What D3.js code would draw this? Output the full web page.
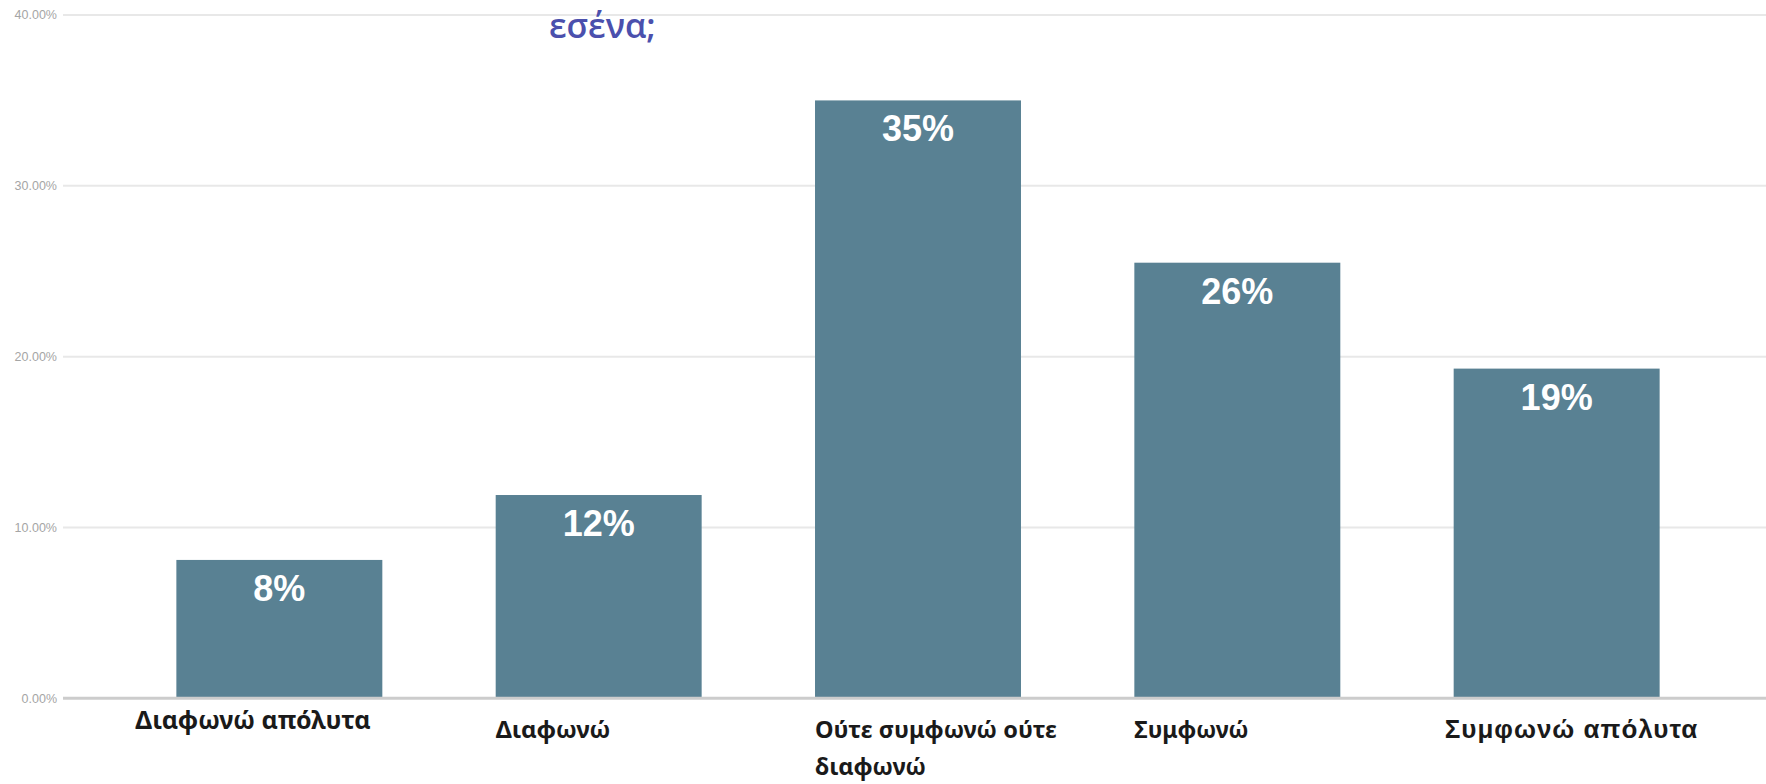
<!DOCTYPE html>
<html>
<head>
<meta charset="utf-8">
<script src="https://cdn.jsdelivr.net/npm/d3@7"></script>
<style>
  html, body { margin: 0; padding: 0; background: #ffffff; }
  svg { display: block; }
</style>
</head>
<body>
<script>
// ---- data ----
const categories = ["Διαφωνώ απόλυτα", "Διαφωνώ", "Ούτε συμφωνώ ούτε διαφωνώ", "Συμφωνώ", "Συμφωνώ απόλυτα"];
const categoryLines = [["Διαφωνώ απόλυτα"], ["Διαφωνώ"], ["Ούτε συμφωνώ ούτε", "διαφωνώ"], ["Συμφωνώ"], ["Συμφωνώ απόλυτα"]];
const values = [8.1, 11.9, 35.0, 25.5, 19.3];
const valueLabels = ["8%", "12%", "35%", "26%", "19%"];
const yTicks = [0, 10, 20, 30, 40];
const yTickLabels = ["0.00%", "10.00%", "20.00%", "30.00%", "40.00%"];
const titleText = "εσένα;";

// ---- layout ----
const W = 1766, H = 784;
const svg = d3.select("body").append("svg").attr("width", W).attr("height", H);

const x = d3.scaleBand().domain(categories).range([63, 1773]).paddingInner(0.355).paddingOuter(0.355);
const y = d3.scaleLinear().domain([0, 40]).range([698.3, 15]);

// gridlines
svg.append("g").selectAll("line").data(yTicks.filter(t => t > 0)).join("line")
  .attr("x1", 63).attr("x2", W)
  .attr("y1", d => y(d)).attr("y2", d => y(d))
  .attr("stroke", "#e8e8e8").attr("stroke-width", 2);

// y tick labels
svg.append("g").selectAll("text").data(yTicks).join("text")
  .attr("x", 57).attr("y", d => y(d))
  .attr("dy", "0.35em")
  .attr("text-anchor", "end")
  .attr("font-family", "Liberation Sans, Arial, sans-serif")
  .attr("font-size", 12.5)
  .attr("fill", "#a5a5a5")
  .text((d, i) => yTickLabels[i]);

// title fragment
svg.append("text")
  .attr("x", 549).attr("y", 38)
  .attr("font-family", "Open Sans, Noto Sans, sans-serif")
  .attr("font-weight", 600)
  .attr("font-size", 34)
  .attr("fill", "#4b50ad")
  .text(titleText);

// bars
svg.append("g").selectAll("rect").data(values).join("rect")
  .attr("x", (d, i) => x(categories[i]))
  .attr("width", x.bandwidth())
  .attr("y", d => y(d))
  .attr("height", d => y(0) - y(d))
  .attr("fill", "#598193");

// baseline
svg.append("line")
  .attr("x1", 63).attr("x2", W)
  .attr("y1", y(0)).attr("y2", y(0))
  .attr("stroke", "#cccccc").attr("stroke-width", 3);

// value labels
svg.append("g").selectAll("text").data(values).join("text")
  .attr("x", (d, i) => x(categories[i]) + x.bandwidth() / 2)
  .attr("y", d => y(d) + 41)
  .attr("text-anchor", "middle")
  .attr("font-family", "Liberation Sans, Arial, sans-serif")
  .attr("font-weight", "bold")
  .attr("font-size", 36)
  .attr("fill", "#ffffff")
  .text((d, i) => valueLabels[i]);

// category labels (left aligned under each bar)
const nudge = [[-41, -9], [0, 0], [0, 0], [0, 0], [-9, 0]];
const catSize = [25, 24, 23.5, 23, 26];
const catSpacing = [0, 0, 0, 0, 1];
const catFont = ["Noto Sans, sans-serif", "Noto Sans, sans-serif", "Noto Sans, sans-serif", "Noto Sans, sans-serif", "Liberation Sans, Arial, sans-serif"];
const catG = svg.append("g")
  .attr("font-weight", "bold")
  .attr("fill", "#1a1a1a");
categoryLines.forEach((lines, i) => {
  const t = catG.append("text")
    .attr("font-family", catFont[i])
    .attr("font-size", catSize[i])
    .attr("letter-spacing", catSpacing[i])
    .attr("x", x(categories[i]) + nudge[i][0])
    .attr("y", 738 + nudge[i][1]);
  lines.forEach((ln, j) => {
    t.append("tspan")
      .attr("x", x(categories[i]) + nudge[i][0])
      .attr("dy", j === 0 ? 0 : 37)
      .text(ln);
  });
});
</script>
</body>
</html>
